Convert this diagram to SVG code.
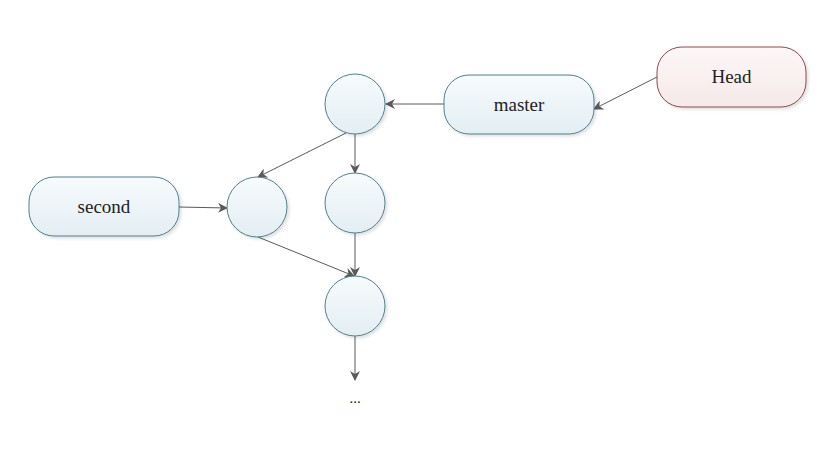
<svg xmlns="http://www.w3.org/2000/svg" width="836" height="450" viewBox="0 0 836 450">
<defs>
<linearGradient id="gb" x1="0" y1="0" x2="0" y2="1"><stop offset="0" stop-color="#f7fbfd"/><stop offset="1" stop-color="#e3eef3"/></linearGradient>
<linearGradient id="gr" x1="0" y1="0" x2="0" y2="1"><stop offset="0" stop-color="#fdf7f7"/><stop offset="1" stop-color="#f5e9e9"/></linearGradient>
<filter id="sh" x="-20%" y="-20%" width="140%" height="140%"><feDropShadow dx="2" dy="2" stdDeviation="1.5" flood-color="#000" flood-opacity="0.12"/></filter>
<marker id="ar" viewBox="0 0 10 10" refX="9" refY="5" markerWidth="10" markerHeight="10" markerUnits="userSpaceOnUse" orient="auto"><path d="M0,0 L10,5 L0,10 L3,5 z" fill="#5a5a5a"/></marker>
</defs>
<style>
.n{fill:url(#gb);stroke:#4f7f8c;stroke-width:1;filter:url(#sh)}
.h{fill:url(#gr);stroke:#8c4a4a;stroke-width:1;filter:url(#sh)}
.t{font-family:"Liberation Serif","DejaVu Serif",serif;font-size:19px;fill:#222;text-anchor:middle}
.c{stroke:#5a5a5a;stroke-width:1;fill:none;marker-end:url(#ar)}
</style>
<rect width="836" height="450" fill="#fff"/>
<g id="connectors">
<line class="c" x1="657" y1="77" x2="594" y2="109"/>
<line class="c" x1="444" y1="104" x2="386" y2="104"/>
<line class="c" x1="346" y1="133" x2="258" y2="177"/>
<line class="c" x1="355" y1="134" x2="355" y2="173"/>
<line class="c" x1="179" y1="207" x2="227" y2="208"/>
<line class="c" x1="258" y1="237" x2="354" y2="276"/>
<line class="c" x1="355" y1="233" x2="355" y2="276"/>
<line class="c" x1="355" y1="336" x2="355" y2="380"/>
</g>
<g id="head"><rect class="h" x="657" y="47" width="149" height="60" rx="25"/><text class="t" x="731.5" y="83">Head</text></g>
<g id="master"><rect class="n" x="444" y="75" width="150" height="59" rx="25"/><text class="t" x="519" y="111">master</text></g>
<g id="second"><rect class="n" x="29" y="177" width="150" height="59" rx="25"/><text class="t" x="104" y="213">second</text></g>
<g id="commitA"><circle class="n" cx="355" cy="104" r="30"/></g>
<g id="commitB"><circle class="n" cx="257" cy="207" r="30"/></g>
<g id="commitC"><circle class="n" cx="355" cy="203" r="30"/></g>
<g id="commitD"><circle class="n" cx="355" cy="306" r="30"/></g>
<g id="more"><text class="t" x="355" y="403" style="font-size:15px">...</text></g>
</svg>
